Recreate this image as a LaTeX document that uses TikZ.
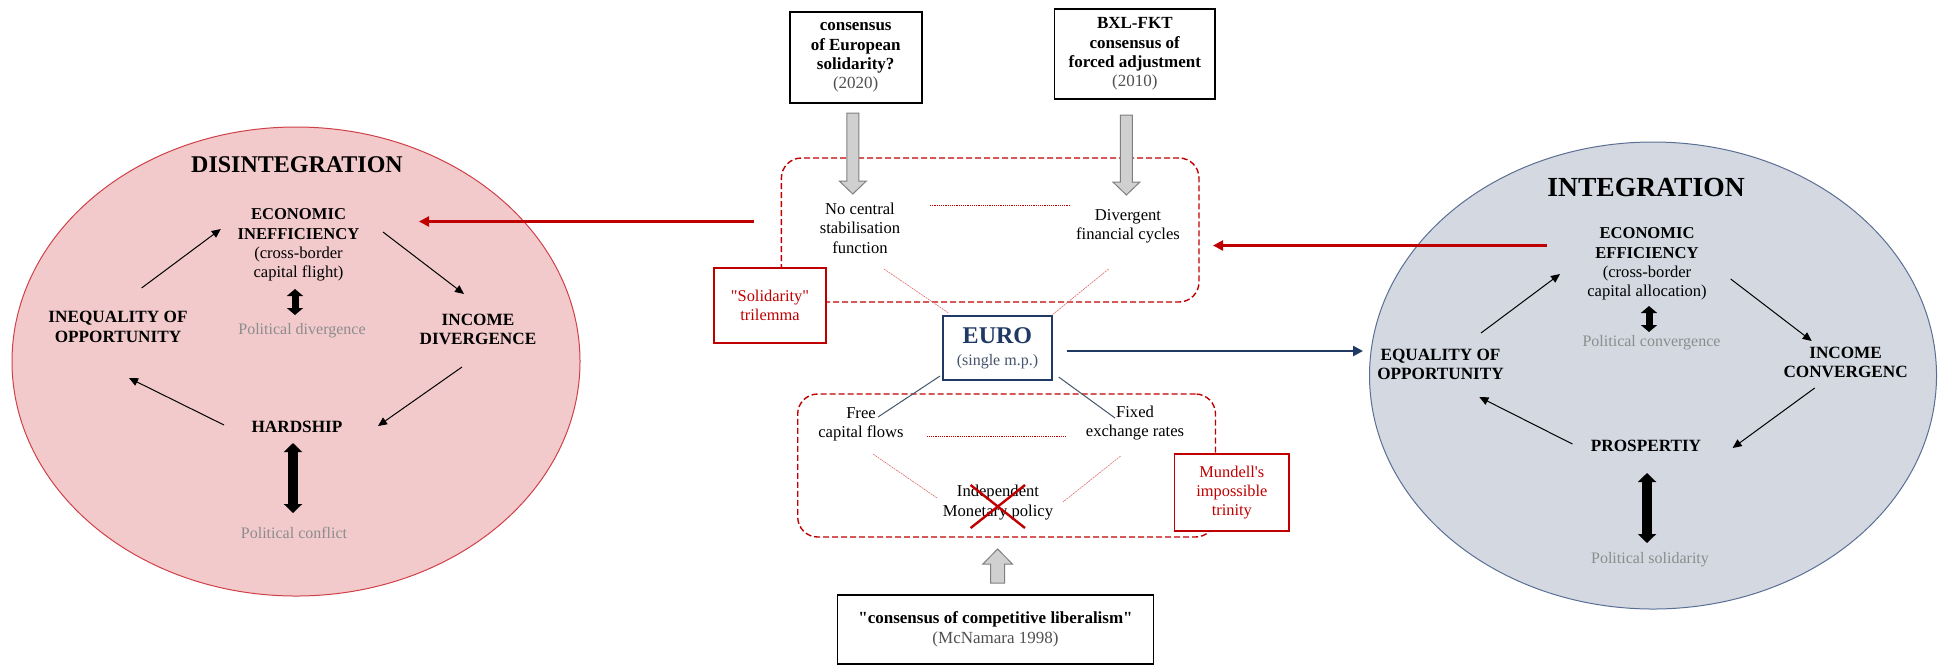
\documentclass[tikz,border=0pt]{standalone}
\usepackage{fontspec}
\setmainfont{Liberation Serif}
\usetikzlibrary{arrows.meta,shapes.geometric}
\definecolor{ured}{HTML}{C00000}
\definecolor{pinkfill}{HTML}{F2CACB}
\definecolor{pinkline}{HTML}{D04048}
\definecolor{bluefill}{HTML}{D3D8E1}
\definecolor{blueline}{HTML}{5B6F95}
\definecolor{navy}{HTML}{203864}
\definecolor{gtext}{HTML}{8C8C8C}
\definecolor{dgtext}{HTML}{505050}
\definecolor{slate}{HTML}{44546A}
\definecolor{lightred}{HTML}{E06A6A}
\definecolor{arrgray}{HTML}{D0D0D0}
\definecolor{arrline}{HTML}{7F7F7F}
\newcommand\fsz[2]{\fontsize{#1}{#2}\selectfont}
\begin{document}
\begin{tikzpicture}[x=0.5pt,y=-0.5pt,
  txt/.style={inner sep=0pt, align=center, font=\fsz{8.3}{9.7}},
  btxt/.style={inner sep=0pt, align=center, font=\fsz{8.6}{9.7}\bfseries},
  gtxt/.style={inner sep=0pt, align=center, text=gtext, font=\fsz{8}{9.7}},
  dtitlestyle/.style={inner sep=0pt, font=\fsz{12}{14}\bfseries},
  ititlestyle/.style={inner sep=0pt, font=\fsz{13.8}{16}\bfseries},
  cyc/.style={-{Triangle[length=4.5pt,width=4pt]}, line width=0.5pt},
  dblsmall/.style={line width=3.5pt, {Triangle[length=3.5pt,width=8pt]}-{Triangle[length=3.5pt,width=8pt]}},
  dblbig/.style={line width=5pt, {Triangle[length=4.5pt,width=9pt]}-{Triangle[length=4.5pt,width=9pt]}},
  redarr/.style={draw=ured, line width=1.1pt, -{Triangle[length=5pt,width=5pt]}},
  bluearr/.style={draw=navy, line width=1.2pt, -{Triangle[length=5pt,width=5pt]}},
  region/.style={draw=ured, dash pattern=on 3pt off 1.5pt, rounded corners=10pt, line width=0.7pt, inner sep=0pt},
  blackbox/.style={draw=black, fill=white, line width=0.8pt, inner sep=0pt, align=center, font=\fsz{8.5}{9.7}},
  redbox/.style={draw=ured, fill=white, line width=0.8pt, inner sep=0pt, align=center, text=ured, font=\fsz{8.2}{9.7}},
  eurobox/.style={draw=navy, fill=white, line width=0.8pt, inner sep=0pt, align=center},
  dotline/.style={draw=ured, line width=0.35pt, dash pattern=on 0.6pt off 0.5pt},
  thinred/.style={draw=lightred, line width=0.3pt, dash pattern=on 1pt off 0.4pt},
  thinblue/.style={draw=slate, line width=0.5pt},
  blockarr/.style={draw=arrline, fill=arrgray, line width=0.5pt}
]
\useasboundingbox (0,0) rectangle (1941,666);

% ---------- ellipses ----------
\node[ellipse, draw=pinkline, fill=pinkfill, line width=0.5pt, inner sep=0pt,
      minimum width=284pt, minimum height=234.5pt] (lell) at (296,361.5) {};
\node[ellipse, draw=blueline, fill=bluefill, line width=0.5pt, inner sep=0pt,
      minimum width=283.5pt, minimum height=233.5pt] (rell) at (1653,375.5) {};

% ---------- left cycle ----------
\node[dtitlestyle] (dtitle) at (297,165) {DISINTEGRATION};
\node[txt] (decon) at (298.5,245) {\textbf{ECONOMIC}\\\textbf{INEFFICIENCY}\\(cross-border\\capital flight)};
\node[gtxt] (dpol) at (302,331) {Political divergence};
\node[btxt] (dineq) at (118,327) {INEQUALITY OF\\OPPORTUNITY};
\node[btxt] (dinc) at (478,329.5) {INCOME\\DIVERGENCE};
\node[btxt] (dhard) at (297,427) {HARDSHIP};
\node[gtxt] (dconf) at (294,533) {Political conflict};

\coordinate (la1) at (141.6,288); \coordinate (la2) at (220.8,229);
\coordinate (lb1) at (383,232);   \coordinate (lb2) at (464,294);
\coordinate (lc1) at (462,367);   \coordinate (lc2) at (378,426);
\coordinate (ld1) at (224,425);   \coordinate (ld2) at (129,378);
\draw[cyc] (la1) -- (la2);
\draw[cyc] (lb1) -- (lb2);
\draw[cyc] (lc1) -- (lc2);
\draw[cyc] (ld1) -- (ld2);
\coordinate (ls1) at (295,289); \coordinate (ls2) at (295,315);
\coordinate (lg1) at (293,443); \coordinate (lg2) at (293,513);
\draw[dblsmall] (ls1) -- (ls2);
\draw[dblbig] (lg1) -- (lg2);

% ---------- right cycle ----------
\node[ititlestyle] (ititle) at (1646,187) {INTEGRATION};
\node[txt] (iecon) at (1647,264) {\textbf{ECONOMIC}\\\textbf{EFFICIENCY}\\(cross-border\\capital allocation)};
\node[gtxt] (ipol) at (1651.5,343) {Political convergence};
\node[btxt] (ieq) at (1440.5,364.5) {EQUALITY OF\\OPPORTUNITY};
\node[btxt] (iinc) at (1845.6,362.5) {INCOME\\CONVERGENC};
\node[btxt] (ipros) at (1646,446) {PROSPERTIY};
\node[gtxt] (isol) at (1650,560) {Political solidarity};

\coordinate (ra1) at (1481,333);   \coordinate (ra2) at (1560,274);
\coordinate (rb1) at (1730.7,279); \coordinate (rb2) at (1811.7,341);
\coordinate (rc1) at (1814.7,388); \coordinate (rc2) at (1732.6,448);
\coordinate (rd1) at (1572.4,444); \coordinate (rd2) at (1479.3,397);
\draw[cyc] (ra1) -- (ra2);
\draw[cyc] (rb1) -- (rb2);
\draw[cyc] (rc1) -- (rc2);
\draw[cyc] (rd1) -- (rd2);
\coordinate (rs1) at (1649,306); \coordinate (rs2) at (1649,332);
\coordinate (rg1) at (1647,473); \coordinate (rg2) at (1647,543);
\draw[dblsmall] (rs1) -- (rs2);
\draw[dblbig] (rg1) -- (rg2);

% ---------- centre ----------
\node[region, minimum width=208.8pt, minimum height=72pt] (topreg) at (990.2,230) {};
\node[region, minimum width=208.9pt, minimum height=71.5pt] (botreg) at (1006.6,465.5) {};

\node[blackbox, minimum width=66pt, minimum height=45.5pt] (b1) at (855.7,57.5)
  {\textbf{consensus}\\\textbf{of European}\\\textbf{solidarity?}\\\textcolor{dgtext}{(2020)}};
\node[blackbox, minimum width=80.2pt, minimum height=45pt] (b2) at (1134.8,54)
  {\textbf{BXL-FKT}\\\textbf{consensus of}\\\textbf{forced adjustment}\\\textcolor{dgtext}{(2010)}};
\node[blackbox, minimum width=158pt, minimum height=34.5pt] (b3) at (995.5,629.5)
  {\textbf{\textquotedbl consensus of competitive liberalism\textquotedbl}\\\textcolor{dgtext}{(McNamara 1998)}};

% grey block arrows
\draw[blockarr] (846.8,113) -- (858.8,113) -- (858.8,181) -- (866.3,181) -- (852.8,194)
  -- (839.3,181) -- (846.8,181) -- cycle;
\draw[blockarr] (1120.4,115) -- (1132.4,115) -- (1132.4,182) -- (1139.9,182) -- (1126.4,195)
  -- (1112.9,182) -- (1120.4,182) -- cycle;
\draw[blockarr] (990.6,583) -- (1004.6,583) -- (1004.6,564) -- (1012.4,564) -- (997.6,549)
  -- (982.9,564) -- (990.6,564) -- cycle;

\node[txt] (nocen) at (860,228) {No central\\stabilisation\\function};
\node[txt] (diverg) at (1128,226.5) {Divergent\\financial cycles};
\node[txt] (free) at (861,424.5) {Free\\capital flows};
\node[txt] (fixed) at (1135,423) {Fixed\\exchange rates};
\node[txt] (indep) at (998,502.5) {Independent\\Monetary policy};

\node[eurobox, minimum width=54.35pt, minimum height=32pt] (euro) at (997.4,348)
  {{\fsz{12}{12}\bfseries\color{navy}EURO}\\[-1pt]{\fsz{8}{10}\color{slate}(single m.p.)}};

\node[redbox, minimum width=56pt, minimum height=37.5pt] (solid) at (770,305.5)
  {\textquotedbl Solidarity\textquotedbl\\trilemma};
\node[redbox, minimum width=57.2pt, minimum height=38.5pt] (mund) at (1231.8,492.5)
  {Mundell\textquotesingle s\\impossible\\trinity};

% dotted and thin lines
\coordinate (td1) at (930,205);   \coordinate (td2) at (1070,205);
\coordinate (bd1) at (926.6,436); \coordinate (bd2) at (1066.3,436);
\draw[dotline] (td1) -- (td2);
\draw[dotline] (bd1) -- (bd2);

\coordinate (tl1) at (884,269);    \coordinate (tl2) at (948.6,313);
\coordinate (tr1) at (1108.6,269); \coordinate (tr2) at (1052,315);
\draw[thinred] (tl1) -- (tl2);
\draw[thinred] (tr1) -- (tr2);
\coordinate (bl1) at (873,454);    \coordinate (bl2) at (937,498);
\coordinate (br1) at (1120.6,456); \coordinate (br2) at (1063,502);
\draw[thinred] (bl1) -- (bl2);
\draw[thinred] (br1) -- (br2);

\coordinate (el1) at (940,376);    \coordinate (el2) at (878,417);
\coordinate (er1) at (1058.7,377); \coordinate (er2) at (1115,418);
\draw[thinblue] (el1) -- (el2);
\draw[thinblue] (er1) -- (er2);

% red cross
\coordinate (x1) at (970.6,485); \coordinate (x2) at (1025,528);
\coordinate (x3) at (970.6,528); \coordinate (x4) at (1025,485);
\draw[ured, line width=1.2pt] (x1) -- (x2) (x3) -- (x4);

% long arrows
\coordinate (redLs) at (754,221.5);  \coordinate (redLe) at (419,221.5);
\coordinate (redRs) at (1547,245.5); \coordinate (redRe) at (1213,245.5);
\coordinate (bls) at (1067,351);     \coordinate (ble) at (1363,351);
\draw[redarr] (redLs) -- (redLe);
\draw[redarr] (redRs) -- (redRe);
\draw[bluearr] (bls) -- (ble);
\end{tikzpicture}
\end{document}
